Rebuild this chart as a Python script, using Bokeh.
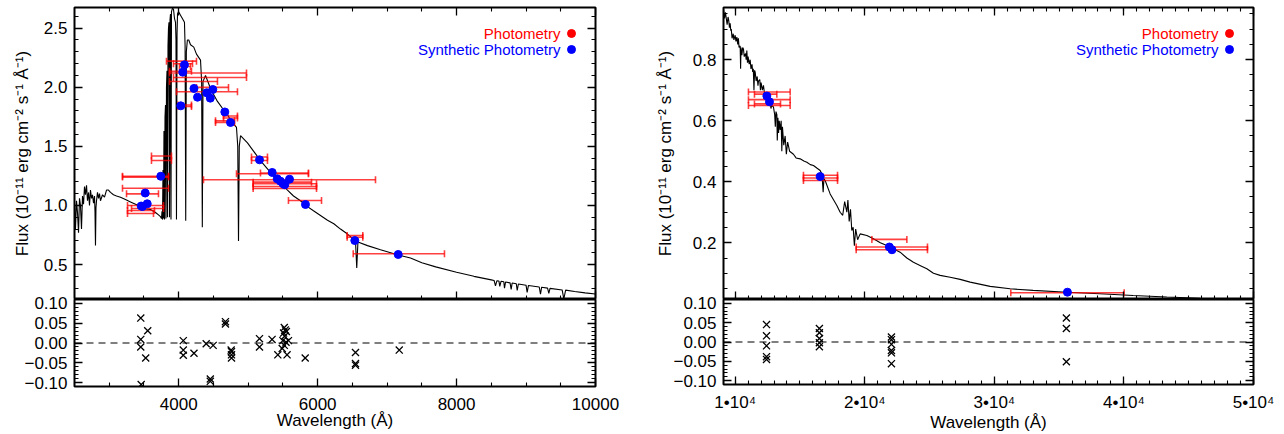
import math
from bokeh.plotting import figure
from bokeh.layouts import row, column
from bokeh.models import FixedTicker, LinearAxis, Span, Label, Range1d, PrintfTickFormatter
from bokeh.embed import file_html
from bokeh.resources import INLINE

FONT = "Liberation Sans"
TICK_FS = "17px"

# ---------------- data: optical panel ----------------
opt_wave = [2500, 2514, 2529, 2543, 2558, 2572, 2586, 2601, 2615, 2630,
            2644, 2658, 2673, 2687, 2702, 2716, 2730, 2745, 2759, 2774,
            2788, 2795, 2802, 2809, 2817, 2831, 2846, 2860, 2874, 2903,
            2932, 2961, 2989, 3018, 3061, 3105, 3162, 3234, 3306, 3378,
            3450, 3522, 3594, 3666, 3709, 3738, 3752, 3760, 3767, 3774,
            3781, 3788, 3796, 3803, 3810, 3817, 3824, 3832, 3839, 3846,
            3853, 3860, 3868, 3875, 3882, 3889, 3896, 3911, 3925, 3940,
            3954, 3961, 3968, 3976, 3983, 3997, 4026, 4055, 4083, 4092,
            4101, 4110, 4125, 4145, 4170, 4217, 4256, 4314, 4330, 4340,
            4350, 4386, 4458, 4501, 4558, 4645, 4702, 4746, 4789, 4832,
            4850, 4861, 4872, 4890, 4990, 5077, 5177, 5278, 5365, 5465,
            5566, 5653, 5753, 5854, 5940, 6041, 6142, 6233, 6329, 6425,
            6516, 6545, 6563, 6580, 6718, 6905, 7160, 7337, 7500, 7700,
            8000, 8250, 8500, 8540, 8560, 8580, 8610, 8622, 8640, 8680,
            8690, 8705, 8770, 8786, 8800, 8860, 8873, 8890, 9000, 9016,
            9035, 9190, 9208, 9225, 9310, 9328, 9345, 9520, 9544, 9570,
            9700, 9850, 10000]
opt_flux = [1.04, 0.80, 1.04, 0.94, 0.77, 1.06, 1.00, 0.80, 1.08, 1.01,
            1.16, 1.09, 1.17, 1.04, 1.11, 1.00, 1.13, 1.06, 1.09, 1.02,
            1.08, 0.95, 0.66, 0.98, 1.04, 1.11, 1.06, 1.10, 1.04, 1.09,
            1.07, 1.13, 1.13, 1.11, 1.09, 1.08, 1.07, 1.05, 1.03, 1.01,
            0.99, 0.97, 0.965, 0.94, 0.92, 0.905, 0.89, 0.95, 0.88, 1.30,
            0.89, 1.63, 0.88, 1.75, 1.85, 0.89, 2.00, 2.14, 0.90, 2.35,
            2.50, 2.55, 0.90, 2.57, 2.62, 0.88, 2.64, 2.67, 2.66, 2.58,
            2.55, 2.40, 0.88, 2.45, 2.62, 2.64, 2.61, 2.58, 2.55, 2.35,
            0.87, 2.30, 2.40, 2.40, 2.36, 2.34, 2.28, 2.23, 2.05, 0.815,
            2.05, 2.10, 1.99, 1.94, 1.88, 1.81, 1.77, 1.72, 1.69, 1.66,
            1.50, 0.70, 1.50, 1.59, 1.53, 1.46, 1.38, 1.31, 1.25, 1.19,
            1.13, 1.08, 1.04, 0.99, 0.955, 0.915, 0.875, 0.845, 0.80, 0.76,
            0.715, 0.70, 0.47, 0.69, 0.66, 0.625, 0.58, 0.555, 0.515, 0.48,
            0.435, 0.40, 0.37, 0.365, 0.32, 0.362, 0.36, 0.315, 0.358, 0.354,
            0.30, 0.352, 0.345, 0.29, 0.343, 0.337, 0.28, 0.335, 0.325, 0.265,
            0.323, 0.31, 0.25, 0.308, 0.30, 0.255, 0.298, 0.285, 0.21, 0.283,
            0.272, 0.26, 0.25]

opt_phot_lo = [3824, 3925, 4011, 3868, 3868, 3925, 3868, 4256, 3968, 3990,
               3990, 4645, 4645, 4530, 4530, 3608, 3608, 3191, 3191, 3191,
               3249, 3263, 3321, 3263, 3263, 5048, 5048, 4832, 5177, 4357,
               5072, 5072, 5072, 5072, 5580, 6425, 6425, 6512]
opt_phot_hi = [4256, 4199, 4170, 4184, 4976, 4976, 4558, 4717, 4846, 4184,
               4184, 4846, 4846, 4803, 4803, 3896, 3896, 3853, 3853, 3853,
               3709, 3781, 3781, 3652, 3637, 5278, 5278, 5868, 5868, 6833,
               5912, 5984, 5984, 5984, 6056, 6650, 6650, 7826]
opt_phot_flux = [2.221, 2.199, 2.176, 2.136, 2.121, 2.083, 2.049, 1.999, 1.962, 1.850,
                 1.837, 1.757, 1.740, 1.716, 1.702, 1.418, 1.380, 1.247, 1.240, 1.146,
                 1.098, 0.999, 0.974, 0.957, 0.932, 1.410, 1.380, 1.268, 1.275, 1.217,
                 1.197, 1.183, 1.160, 1.143, 1.042, 0.745, 0.731, 0.591]

opt_syn_wave = [3460, 3479, 3518, 3547, 3742, 4030, 4059, 4083, 4220, 4271, 4403, 4455, 4491,
                4664, 4746, 5163, 5346, 5418, 5465, 5504, 5527, 5595, 5825, 6535, 7160]
opt_syn_flux = [0.995, 0.991, 1.105, 1.014, 1.247, 1.843, 2.128, 2.190, 1.990, 1.916, 1.953, 1.908, 1.981,
                1.791, 1.702, 1.386, 1.279, 1.225, 1.205, 1.183, 1.175, 1.222, 1.008, 0.703, 0.585]

opt_res_wave = [3454, 3454, 3454, 3460, 3525, 3554, 4066, 4066, 4066, 4220,
                4396, 4496, 4455, 4455, 4673, 4673, 4755, 4760, 4760, 4760,
                5163, 5163, 5344, 5427, 5490, 5500, 5510, 5520, 5520, 5525,
                5535, 5545, 5550, 5560, 5580, 5821, 6545, 6545, 6545, 7175]
opt_res_val = [0.063, 0.009, -0.010, -0.105, -0.038, 0.031, 0.006, -0.018, -0.031, -0.026,
               -0.002, -0.006, -0.091, -0.097, 0.054, 0.048, -0.018, -0.022, -0.030, -0.038,
               0.011, -0.010, 0.009, -0.030, -0.014, 0.006, 0.025, 0.039, -0.006, 0.017,
               0.033, 0.002, 0.029, -0.030, 0.006, -0.038, -0.024, -0.052, -0.056, -0.018]

# ---------------- data: near-IR panel ----------------
nir_wave = [9100, 9180, 9250, 9300, 9380, 9450, 9500, 9560, 9614, 9660,
            9700, 9760, 9850, 9900, 10000, 10060, 10131, 10200, 10250, 10300,
            10386, 10420, 10450, 10520, 10580, 10640, 10700, 10800, 10850, 10900,
            10950, 11000, 11080, 11157, 11220, 11300, 11350, 11400, 11450, 11500,
            11543, 11620, 11700, 11760, 11800, 11900, 11950, 12000, 12100, 12184,
            12260, 12400, 12500, 12600, 12700, 12760, 12818, 12955, 13050, 13100,
            13150, 13218, 13250, 13300, 13350, 13400, 13472, 13550, 13600, 13650,
            13750, 13858, 13950, 14050, 14200, 14350, 14498, 14700, 15015, 15300,
            15532, 15800, 16042, 16300, 16559, 16700, 16790, 16850, 16944, 17330,
            17847, 18102, 18300, 18450, 18619, 18700, 18800, 18900, 19000, 19105,
            19200, 19300, 19450, 19645, 20162, 20671, 21200, 21705, 22200, 22731,
            23250, 23758, 24300, 24792, 25301, 25818, 26590, 27361, 28133, 29676,
            31219, 32994, 35594, 38140, 40710, 43310, 45860, 50000]
nir_flux = [0.967, 0.935, 0.955, 0.94, 0.915, 0.94, 0.93, 0.905, 0.919, 0.895,
            0.90, 0.87, 0.885, 0.865, 0.88, 0.86, 0.874, 0.85, 0.87, 0.84,
            0.845, 0.77, 0.84, 0.815, 0.84, 0.835, 0.81, 0.82, 0.80, 0.83,
            0.79, 0.81, 0.785, 0.80, 0.77, 0.785, 0.76, 0.77, 0.70, 0.765,
            0.76, 0.73, 0.745, 0.715, 0.73, 0.735, 0.70, 0.725, 0.70, 0.716,
            0.69, 0.69, 0.665, 0.675, 0.667, 0.64, 0.65, 0.645, 0.62, 0.58,
            0.63, 0.62, 0.535, 0.61, 0.56, 0.60, 0.57, 0.60, 0.50, 0.58,
            0.52, 0.55, 0.49, 0.53, 0.50, 0.495, 0.49, 0.478, 0.475, 0.468,
            0.464, 0.456, 0.453, 0.445, 0.437, 0.425, 0.366, 0.41, 0.404, 0.36,
            0.322, 0.30, 0.29, 0.335, 0.30, 0.34, 0.27, 0.31, 0.24, 0.251,
            0.19, 0.245, 0.21, 0.229, 0.224, 0.213, 0.20, 0.191, 0.18, 0.169,
            0.15, 0.136, 0.125, 0.115, 0.100, 0.093, 0.087, 0.080, 0.071, 0.057,
            0.049, 0.044, 0.038, 0.033, 0.027, 0.022, 0.018, 0.016]

nir_phot_lo = [11026, 11489, 11026, 11026, 11489, 15270, 15270, 15270, 20550, 19340, 19340, 31270]
nir_phot_hi = [14244, 13217, 14244, 14244, 13500, 17900, 17900, 17900, 23250, 24840, 24840, 40020]
nir_phot_flux = [0.694, 0.687, 0.669, 0.650, 0.655, 0.421, 0.412, 0.404, 0.211, 0.186, 0.177, 0.036]

nir_syn_wave = [12446, 12647, 16560, 21900, 22100, 35640]
nir_syn_flux = [0.681, 0.662, 0.417, 0.186, 0.177, 0.038]

nir_res_wave = [12420, 12420, 12420, 12420, 12420, 16500, 16500, 16500, 16500, 16500,
                22060, 22060, 22060, 22060, 22060, 22060, 35560, 35560, 35560]
nir_res_val = [0.045, 0.016, -0.010, -0.038, -0.045, 0.035, 0.024, 0.009, -0.002, -0.012,
               0.013, 0.006, -0.006, -0.022, -0.028, -0.056, 0.062, 0.035, -0.051]

# ---------------- axes / ticks ----------------
opt_xrange = (2500, 10000)
opt_yrange = (0.204, 2.675)
nir_xrange = (9100, 50000)
nir_yrange = (0.014, 0.971)
res_yrange = (-0.11, 0.11)

opt_xmajor = [4000, 6000, 8000, 10000]
opt_xminor = [3000, 3500, 4500, 5000, 5500, 6500, 7000, 7500, 8500, 9000, 9500]
opt_ymajor = [0.5, 1.0, 1.5, 2.0, 2.5]
opt_yminor = [round(0.3 + 0.1 * i, 1) for i in range(24)]
nir_xmajor = [10000, 20000, 30000, 40000, 50000]
nir_xminor = list(range(10000, 50001, 1000))
nir_xlabels = {10000: "1•10⁴", 20000: "2•10⁴", 30000: "3•10⁴", 40000: "4•10⁴", 50000: "5•10⁴"}
nir_ymajor = [0.2, 0.4, 0.6, 0.8]
nir_yminor = [round(0.05 * i, 2) for i in range(1, 20)]
res_ymajor = [-0.1, -0.05, 0, 0.05, 0.1]
res_yminor = [round(0.01 * i, 2) for i in range(-11, 12)]
res_ylabels = {-0.1: "−0.10", -0.05: "−0.05", 0: "0.00", 0.05: "0.05", 0.1: "0.10"}

FLUX_LABEL = "Flux (10⁻¹¹ erg cm⁻² s⁻¹ Å⁻¹)"
WAVE_LABEL = "Wavelength (Å)"

TOP_H = 299
TOP_MB = 7
OVERLAP = 12
BOT_H = 135 + OVERLAP
BOT_MB = 48


def base_fig(w, h, mbl, mbr, mbt, mbb, xr, yr, xloc="below", yloc="left"):
    p = figure(width=w, height=h, x_range=Range1d(*xr), y_range=Range1d(*yr),
               output_backend="svg", toolbar_location=None,
               x_axis_location=xloc, y_axis_location=yloc,
               min_border_left=mbl, min_border_right=mbr,
               min_border_top=mbt, min_border_bottom=mbb)
    p.xgrid.visible = False
    p.ygrid.visible = False
    p.outline_line_color = "black"
    p.outline_line_width = 2
    p.outline_line_alpha = 1.0
    p.border_fill_color = "white"
    p.background_fill_color = "white"
    return p


def setup_axis(ax, major, minor, fmt=None, overrides=None, standoff=7):
    ax.ticker = FixedTicker(ticks=major, minor_ticks=minor)
    ax.axis_line_color = None
    ax.major_tick_in = 8
    ax.major_tick_out = 0
    ax.minor_tick_in = 4
    ax.minor_tick_out = 0
    ax.major_tick_line_color = "black"
    ax.minor_tick_line_color = "black"
    ax.major_tick_line_width = 1.3
    ax.minor_tick_line_width = 1.1
    ax.major_label_text_font = FONT
    ax.major_label_text_font_size = TICK_FS
    ax.major_label_text_color = "black"
    ax.major_label_standoff = standoff
    if fmt is not None:
        ax.formatter = fmt
    if overrides:
        ax.major_label_overrides = overrides


def tick_only_axes(p, side, major, minor):
    # label-free axes: the major and minor tick marks drawn as two tick sets
    for ticks, length, lw in ((major, 8, 1.3), (minor, 4, 1.1)):
        ax = LinearAxis(ticker=FixedTicker(ticks=[], minor_ticks=ticks))
        ax.axis_line_color = None
        ax.major_tick_in = 0
        ax.major_tick_out = 0
        ax.minor_tick_in = length
        ax.minor_tick_out = 0
        ax.minor_tick_line_color = "black"
        ax.minor_tick_line_width = lw
        ax.major_label_standoff = 0
        p.add_layout(ax, side)


def spectrum_panel(w, mbl, mbr, xr, yr, xmaj, xmin, ymaj, ymin,
                   wave, flux, lo, hi, pf, sw, sf, label_standoff):
    p = base_fig(w, TOP_H, mbl, mbr, TOP_MB, 0, xr, yr, xloc=None)
    setup_axis(p.yaxis[0], ymaj, ymin, fmt=PrintfTickFormatter(format="%.1f"))
    p.yaxis[0].axis_label = FLUX_LABEL
    p.yaxis[0].axis_label_text_font = FONT
    p.yaxis[0].axis_label_text_font_size = "17px"
    p.yaxis[0].axis_label_text_font_style = "normal"
    p.yaxis[0].axis_label_text_color = "black"
    p.yaxis[0].axis_label_standoff = label_standoff
    tick_only_axes(p, "below", xmaj, xmin)
    tick_only_axes(p, "above", xmaj, xmin)
    tick_only_axes(p, "right", ymaj, ymin)

    p.line(wave, flux, line_color="black", line_width=1.1)
    p.segment(x0=lo, y0=pf, x1=hi, y1=pf, line_color="#ff0000", line_width=1.6, line_alpha=0.75)
    p.scatter(lo, pf, marker="dash", size=7, angle=math.pi / 2,
              line_color="#ff0000", line_width=1.6, line_alpha=0.75)
    p.scatter(hi, pf, marker="dash", size=7, angle=math.pi / 2,
              line_color="#ff0000", line_width=1.6, line_alpha=0.75)
    p.scatter(sw, sf, marker="circle", size=8, fill_color="#0000ff", line_color="#0000ff")

    # in-plot legend (text right-aligned, dot to its right)
    fw = w - mbl - mbr
    fh = TOP_H - TOP_MB
    rows = [("Photometry", "#ff0000", 26), ("Synthetic Photometry", "#0000ff", 42)]
    for txt, col, dy in rows:
        p.add_layout(Label(x=fw - 35, y=fh - dy, x_units="screen", y_units="screen",
                           text=txt, text_align="right", text_baseline="middle",
                           text_color=col, text_font=FONT, text_font_size="15px"))
        dx = xr[0] + (fw - 24) / fw * (xr[1] - xr[0])
        dyv = yr[0] + (fh - dy) / fh * (yr[1] - yr[0])
        p.scatter([dx], [dyv], marker="circle", size=8, fill_color=col, line_color=col)
    return p


def resid_panel(w, mbl, mbr, xr, xmaj, xmin, xover, rw, rv, xstandoff):
    p = base_fig(w, BOT_H, mbl, mbr, OVERLAP, BOT_MB, xr, res_yrange)
    p.border_fill_color = None
    p.margin = (-OVERLAP, 0, 0, 0)
    setup_axis(p.xaxis[0], xmaj, xmin, overrides=xover, standoff=xstandoff)
    p.xaxis[0].axis_label = WAVE_LABEL
    p.xaxis[0].axis_label_text_font = FONT
    p.xaxis[0].axis_label_text_font_size = "17px"
    p.xaxis[0].axis_label_text_font_style = "normal"
    p.xaxis[0].axis_label_text_color = "black"
    p.xaxis[0].axis_label_standoff = -2
    setup_axis(p.yaxis[0], res_ymajor, res_yminor, overrides=res_ylabels)
    tick_only_axes(p, "right", res_ymajor, res_yminor)
    p.add_layout(Span(location=0, dimension="width", line_color="black",
                      line_dash="7 5", line_width=1.2))
    p.scatter(rw, rv, marker="x", size=10, line_color="black", line_width=1.3)
    return p


tl = spectrum_panel(640, 74, 45, opt_xrange, opt_yrange, opt_xmajor, opt_xminor,
                    opt_ymajor, opt_yminor, opt_wave, opt_flux,
                    opt_phot_lo, opt_phot_hi, opt_phot_flux, opt_syn_wave, opt_syn_flux, 9)
bl = resid_panel(640, 74, 45, opt_xrange, opt_xmajor, opt_xminor, None,
                 opt_res_wave, opt_res_val, 11)
tr = spectrum_panel(644, 83, 31, nir_xrange, nir_yrange, nir_xmajor, nir_xminor,
                    nir_ymajor, nir_yminor, nir_wave, nir_flux,
                    nir_phot_lo, nir_phot_hi, nir_phot_flux, nir_syn_wave, nir_syn_flux, 15)
br = resid_panel(644, 83, 31, nir_xrange, nir_xmajor, nir_xminor, nir_xlabels,
                 nir_res_wave, nir_res_val, 8)

layout = row(column(tl, bl), column(tr, br))
open("out.html", "w").write(file_html(layout, INLINE))
